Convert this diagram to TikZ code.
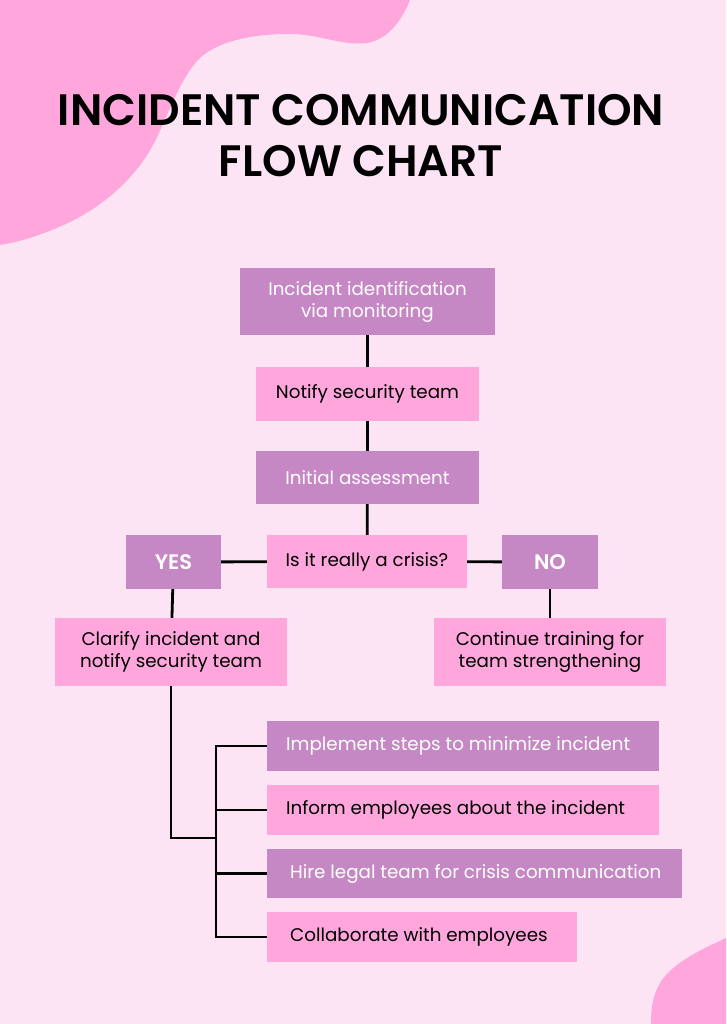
\documentclass[tikz,border=0pt]{standalone}
\usepackage{fontspec}
\setmainfont{Poppins}
\newfontfamily\titlefont{Poppins SemiBold}
\definecolor{bgpink}{HTML}{FDE4F4}
\definecolor{blob}{HTML}{FFA6DC}
\definecolor{purp}{HTML}{C688C4}
\definecolor{pinkbox}{HTML}{FFA6DC}
\begin{document}
\begin{tikzpicture}[x=1pt,y=-1pt,
  base/.style={rectangle,inner sep=0pt,font=\fontsize{18.3}{22}\selectfont,align=center},
  pbox/.style={base,fill=purp,text=white},
  kbox/.style={base,fill=pinkbox,text=black},
  lbl/.style={anchor=west,inner sep=0pt,font=\fontsize{18.3}{22}\selectfont},
  yn/.style={pbox,font=\titlefont\fontsize{21}{24}\selectfont},
  conn/.style={line width=2.8pt,black}]
\fill[bgpink] (0,0) rectangle (726,1024);
\useasboundingbox (0,0) rectangle (726,1024);
% blobs
\fill[blob] (0,0) -- (410,0) .. controls (400,25) and (385,40) .. (367,43)
  .. controls (340,46) and (320,34) .. (290,34)
  .. controls (250,34) and (215,42) .. (198,60)
  .. controls (180,80) and (170,110) .. (158,135)
  .. controls (140,175) and (105,205) .. (70,222)
  .. controls (45,234) and (20,242) .. (0,245) -- cycle;
\fill[blob] (726,938) .. controls (700,950) and (675,962) .. (662,980)
  .. controls (652,995) and (651,1010) .. (651,1024) -- (726,1024) -- cycle;
% title
\node[font=\titlefont\fontsize{44}{51}\selectfont,align=center,inner sep=0pt] (title) at (361,136) {INCIDENT COMMUNICATION\\FLOW CHART};
% nodes
\node[pbox,minimum width=255,minimum height=67] (n1) at (367.5,301.5) {Incident identification\\via monitoring};
\node[kbox,minimum width=223,minimum height=54] (n2) at (367.5,394) {Notify security team};
\node[pbox,minimum width=223,minimum height=53] (n3) at (367.5,477.5) {Initial assessment};
\node[kbox,minimum width=200,minimum height=53] (n4) at (367,561.5) {Is it really a crisis?};
\node[yn,minimum width=95,minimum height=54] (yes) at (173.5,562) {YES};
\node[yn,minimum width=96,minimum height=54] (no) at (550,562) {NO};
\node[kbox,minimum width=232,minimum height=68] (n5) at (171,652) {Clarify incident and\\notify security team};
\node[kbox,minimum width=232,minimum height=68] (n6) at (550,652) {Continue training for\\team strengthening};
\node[pbox,minimum width=392,minimum height=50,anchor=west] (s1) at (267,746) {};
\node[kbox,minimum width=392,minimum height=50,anchor=west] (s2) at (267,810) {};
\node[pbox,minimum width=415,minimum height=49,anchor=west] (s3) at (267,873.5) {};
\node[kbox,minimum width=310,minimum height=50,anchor=west] (s4) at (267,937) {};
\node[lbl,text=white] (t1) at ([xshift=19pt]s1.west) {Implement steps to minimize incident};
\node[lbl] (t2) at ([xshift=19pt]s2.west) {Inform employees about the incident};
\node[lbl,text=white] (t3) at ([xshift=23pt]s3.west) {Hire legal team for crisis communication};
\node[lbl] (t4) at ([xshift=23pt]s4.west) {Collaborate with employees};
% connectors
\draw[conn] (n1) -- (n2);
\draw[conn] (n2) -- (n3);
\draw[conn] (n3) -- (n4);
\draw[conn] (n4) -- (yes);
\draw[conn] (n4) -- (no);
\draw[conn] (yes) -- (n5);
\draw[conn] (no) -- (n6);
\coordinate (bus) at (216,838);
\coordinate (bustop) at (216,746);
\coordinate (busbot) at (216,937);
\draw[conn] (n5.south) |- (bus);
\draw[conn,line cap=rect] (bustop) -- (busbot);
\draw[conn] (bustop) -- (s1.west);
\draw[conn] (216,810) -- (s2.west);
\draw[conn] (216,873.5) -- (s3.west);
\draw[conn] (busbot) -- (s4.west);
\end{tikzpicture}
\end{document}
